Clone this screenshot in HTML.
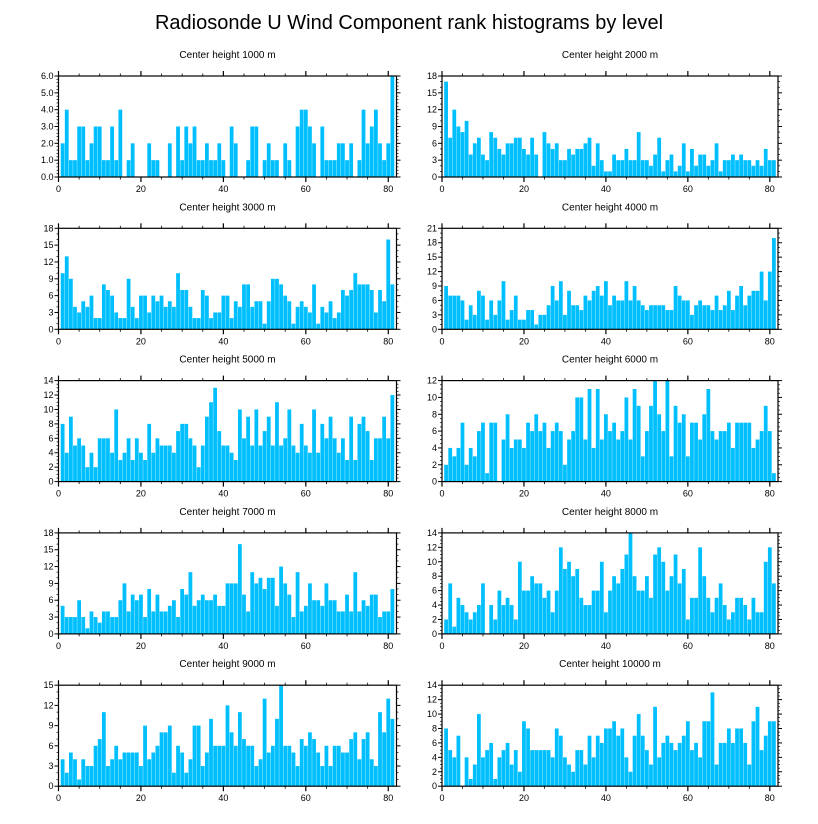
<!DOCTYPE html>
<html><head><meta charset="utf-8">
<style>
html,body{margin:0;padding:0;background:#fff;}
svg{display:block;font-family:"Liberation Sans",Arial,sans-serif;}
</style></head>
<body>
<svg id="chart" width="818" height="824" viewBox="0 0 818 824" xmlns="http://www.w3.org/2000/svg">
<text x="409" y="29" font-size="20" text-anchor="middle" fill="#000">Radiosonde U Wind Component rank histograms by level</text>
</svg>
<script>
const titles = ["Center height 1000 m","Center height 2000 m","Center height 3000 m","Center height 4000 m","Center height 5000 m","Center height 6000 m","Center height 7000 m","Center height 8000 m","Center height 9000 m","Center height 10000 m"];
const yMax = [6,18,18,21,14,12,18,14,15,14];
const yStep = [1,3,3,3,2,2,3,2,3,2];
const yMinor = [0.2,1,1,1,0.5,0.5,1,0.5,1,0.5];
const yDecimals = [1,0,0,0,0,0,0,0,0,0];
const xTicks = [0,20,40,60,80];
const h1000 = [2,4,1,1,3,3,1,2,3,3,1,1,3,1,4,0,1,2,0,0,0,2,1,1,0,0,2,0,3,1,3,2,3,1,1,2,1,1,2,1,0,3,2,0,0,1,3,3,0,1,2,1,1,0,2,1,0,3,4,4,3,2,0,3,1,1,1,2,2,1,2,0,1,4,2,3,4,2,1,2,6];
const h2000 = [17,7,12,9,8,10,4,6,7,4,3,8,7,5,4,6,6,7,7,5,4,7,4,0,8,6,5,6,3,3,5,4,5,5,6,7,2,6,3,1,1,4,3,3,5,3,3,8,3,3,2,4,7,1,3,4,1,2,6,1,5,2,4,4,2,3,6,1,3,3,4,3,4,3,3,2,3,2,5,3,3];
const h3000 = [10,13,9,4,3,5,4,6,2,2,8,7,6,3,2,2,9,4,2,6,6,3,6,5,6,4,5,4,10,7,7,4,2,2,7,6,2,3,3,6,6,2,5,4,8,8,4,5,5,1,5,9,9,8,6,5,1,4,5,4,3,8,1,4,3,5,2,3,7,6,7,10,8,8,8,7,3,7,5,16,8];
const h4000 = [9,7,7,7,6,2,5,3,8,7,2,6,3,6,10,2,4,7,2,2,4,4,1,3,3,5,9,6,10,3,8,5,5,4,7,6,8,9,7,10,5,7,6,6,10,6,9,6,5,4,5,5,5,5,4,4,9,7,6,6,3,5,6,5,5,4,7,4,5,8,4,7,9,5,7,8,8,12,6,12,19];
const h5000 = [8,4,9,5,6,5,2,4,2,6,6,6,4,10,3,4,6,3,6,4,3,8,4,6,5,5,5,4,7,8,8,6,5,2,5,9,11,13,7,5,5,4,3,10,6,9,5,10,5,7,9,5,11,5,6,10,5,4,8,5,4,10,4,8,6,9,6,4,6,3,9,3,8,9,7,3,6,6,9,6,12];
const h6000 = [2,4,3,4,7,2,4,3,6,7,1,7,7,0,5,8,4,5,5,4,7,6,8,6,7,4,6,7,6,2,5,6,10,10,5,11,4,11,5,8,6,7,5,6,10,5,11,9,3,6,9,12,8,6,12,3,9,7,8,3,7,7,5,8,11,6,5,6,6,7,4,7,7,7,7,4,5,6,9,6,1];
const h7000 = [5,3,3,3,6,3,1,4,3,2,4,4,3,3,6,9,4,7,6,7,3,8,4,7,4,4,5,6,3,8,7,11,5,6,7,6,6,7,5,5,9,9,9,16,7,4,11,9,10,8,10,10,5,12,9,7,3,11,4,5,9,6,6,5,9,6,6,4,4,7,4,11,4,6,5,7,7,3,4,4,8];
const h8000 = [2,7,1,5,4,3,2,3,4,7,0,4,2,6,4,5,4,2,10,6,6,8,7,7,5,6,3,6,12,9,10,8,9,5,4,4,6,6,10,3,6,8,7,9,11,14,8,6,6,8,5,11,12,10,6,8,11,7,9,2,5,5,12,8,5,3,5,7,4,2,3,5,5,4,2,5,3,3,10,12,7];
const h9000 = [4,2,5,4,1,4,3,3,6,7,11,3,4,6,4,5,5,5,5,3,9,4,5,6,8,8,9,2,6,5,2,4,9,9,3,5,10,6,6,6,12,8,6,11,7,6,6,3,4,13,5,6,10,15,6,6,5,3,7,6,8,7,5,3,6,3,6,6,5,5,7,8,4,7,8,4,3,11,8,13,10];
const h10000 = [8,5,4,7,0,4,1,3,10,4,5,6,1,4,5,6,3,5,2,9,8,5,5,5,5,5,4,8,7,4,3,2,5,5,3,7,4,7,6,8,8,9,7,8,4,2,7,10,7,5,3,11,4,6,7,6,5,6,7,9,5,6,4,9,9,13,3,6,6,8,6,8,8,6,3,9,11,5,7,9,9];
const series = [h1000,h2000,h3000,h4000,h5000,h6000,h7000,h8000,h9000,h10000];

const NS = "http://www.w3.org/2000/svg";
const svg = document.getElementById("chart");
function mk(tag, attrs, parent){
  const e = document.createElementNS(NS, tag);
  for (const k in attrs) e.setAttribute(k, attrs[k]);
  parent.appendChild(e);
  return e;
}
const XMAX = 82;
for (let p = 0; p < 10; p++) {
  const col = p % 2, row = Math.floor(p / 2);
  const x0 = col ? 442 : 58.5, w = col ? 336 : 338;
  const y0 = 76 + row * 152.3, h = 101;
  const xs = v => x0 + v / XMAX * w;
  const ys = v => y0 + h - v / yMax[p] * h;
  const g = mk("g", {}, svg);
  
  
  const t = mk("text", {x: x0 + w / 2, y: y0 - 18, "font-size": 10, "text-anchor": "middle", fill: "#000"}, g);
  t.textContent = titles[p];
  
  
  const data = series[p];
  for (let i = 0; i < data.length; i++) {
    const k = i + 1;
    if (data[i] <= 0) continue;
    const r = mk("rect", {x: xs(k - 0.46), y: ys(data[i]), width: xs(k + 0.46) - xs(k - 0.46), height: ys(0) - ys(data[i]), fill: "#00BFFF"}, g);
    
    
  }
  const frame = mk("rect", {x: x0, y: y0, width: w, height: h, fill: "none", stroke: "#000", "stroke-width": 1.2}, g);
  
  
  // x ticks
  for (let v = 0; v <= 80; v += 5) {
    const major = v % 20 === 0, L = major ? 5 : 2.5;
    const X = xs(v);
    mk("line", {x1: X, x2: X, y1: y0 + h, y2: y0 + h + L, stroke: "#000", "stroke-width": major ? 1.2 : 0.8}, g);
    mk("line", {x1: X, x2: X, y1: y0, y2: y0 - L, stroke: "#000", "stroke-width": major ? 1.2 : 0.8}, g);
  }
  for (const v of xTicks) {
    const tl = mk("text", {x: xs(v), y: y0 + h + 15, "font-size": 9, "text-anchor": "middle", fill: "#000"}, g);
    tl.textContent = v;
    
    
  }
  // y ticks
  const nMinor = Math.round(yMax[p] / yMinor[p]);
  for (let j = 0; j <= nMinor; j++) {
    const v = j * yMinor[p];
    const major = Math.abs(v / yStep[p] - Math.round(v / yStep[p])) < 1e-6;
    const L = major ? 4 : 2, Y = ys(v);
    mk("line", {x1: x0, x2: x0 - L, y1: Y, y2: Y, stroke: "#000", "stroke-width": major ? 1 : 0.7}, g);
    mk("line", {x1: x0 + w, x2: x0 + w + L, y1: Y, y2: Y, stroke: "#000", "stroke-width": major ? 1 : 0.7}, g);
  }
  for (let v = 0; v <= yMax[p] + 1e-6; v += yStep[p]) {
    const tl = mk("text", {x: x0 - 5, y: ys(v) + 3, "font-size": 9, "text-anchor": "end", fill: "#000"}, g);
    tl.textContent = v.toFixed(yDecimals[p]);
    
    
  }
}
</script>
</body></html>
